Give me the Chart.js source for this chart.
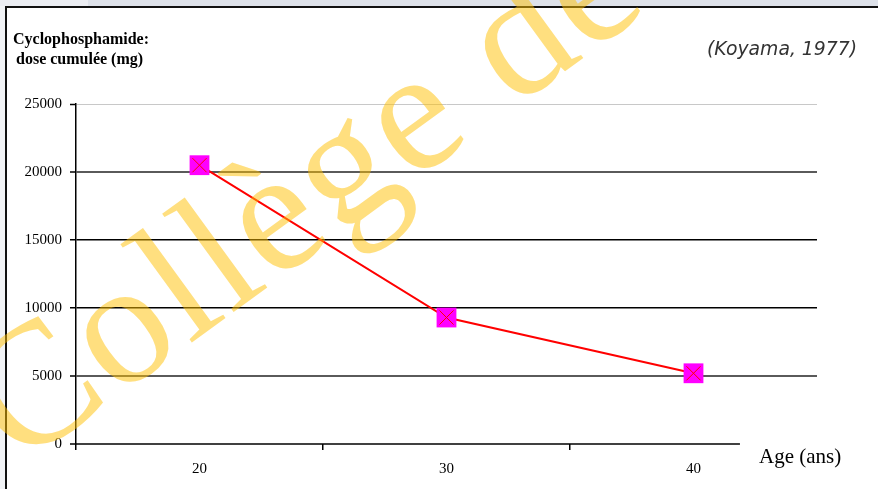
<!DOCTYPE html>
<html>
<head>
<meta charset="utf-8">
<script src="https://cdn.jsdelivr.net/npm/chart.js@4"></script>
<style>
  html, body { margin: 0; padding: 0; background: #fff; }
  canvas { display: block; }
</style>
</head>
<body>
<canvas id="doseChart" width="878" height="489"></canvas>
<script>
  // values
  const ages = ["20", "30", "40"];
  const doses = [20500, 9300, 5200];
  const yMax = 25000;
  const yStep = 5000;

  // gridline look per tick index (0, 5000, ..., 25000)
  const gridColors = ["transparent", "#5a5a5a", "#000", "#000", "#5a5a5a", "#c8c8c8"];
  const gridWidths = [0, 2, 1.5, 1.5, 2, 1];

  const framePlugin = {
    id: "frame",
    beforeDraw(chart) {
      const ctx = chart.ctx;
      ctx.save();
      ctx.fillStyle = "#f1f3f6";
      ctx.fillRect(0, 0, 6, chart.height);
      ctx.fillStyle = "#dde1e9";
      ctx.fillRect(0, 0, chart.width, 6);
      ctx.fillStyle = "#ebedf2";
      ctx.fillRect(0, 0, 88, 6);
      ctx.fillStyle = "#111";
      ctx.fillRect(5, 6, chart.width - 5, 2);
      ctx.fillRect(5, 6, 2, chart.height - 6);
      ctx.restore();
    },
    afterDatasetsDraw(chart) {
      const ctx = chart.ctx;
      const a = chart.chartArea;
      ctx.save();
      // x axis line stops short of the plot's right edge
      ctx.strokeStyle = "#000";
      ctx.lineWidth = 1.5;
      ctx.beginPath();
      ctx.moveTo(a.left, a.bottom);
      ctx.lineTo(a.left + (a.right - a.left) * 0.896, a.bottom);
      ctx.stroke();

      ctx.fillStyle = "#000";
      ctx.textBaseline = "alphabetic";
      ctx.textAlign = "left";
      ctx.font = 'bold 16px "Liberation Serif"';
      ctx.fillText("Cyclophosphamide:", 13, 44, 140);
      ctx.fillText("dose cumulée (mg)", 16, 64, 134);

      ctx.font = '21px "Liberation Serif"';
      ctx.fillText("Age (ans)", 759, 463, 84);

      ctx.fillStyle = "#333";
      ctx.textAlign = "right";
      ctx.font = 'italic 19px "DejaVu Sans"';
      ctx.fillText("(Koyama, 1977)", 857, 55, 150);
      ctx.restore();
    },
    afterDraw(chart) {
      // watermark
      const ctx = chart.ctx;
      ctx.save();
      ctx.translate(19, 468);
      ctx.rotate(-36 * Math.PI / 180);
      ctx.fillStyle = "rgba(255, 192, 0, 0.5)";
      ctx.font = '175px "Liberation Serif"';
      ctx.textBaseline = "alphabetic";
      let x = 0;
      for (const ch of "Collège de") {
        ctx.fillText(ch, x, 0);
        x += ctx.measureText(ch).width + 3;
      }
      ctx.restore();
    }
  };

  const ctx = document.getElementById("doseChart").getContext("2d");
  const doseChart = new Chart(ctx, {
    type: "line",
    data: {
      labels: ages,
      datasets: [
        {
          label: "dose",
          data: doses,
          order: 1,
          borderColor: "#ff0000",
          borderWidth: 2,
          pointStyle: "rect",
          pointRadius: 14,
          pointBackgroundColor: "#ff00ff",
          pointBorderColor: "#ff00ff",
          pointBorderWidth: 0,
          tension: 0,
        },
        {
          label: "marks",
          data: doses,
          order: 0,
          showLine: false,
          pointStyle: "crossRot",
          pointRadius: 10,
          pointBorderColor: "#ff0000",
          pointBorderWidth: 1,
        },
      ],
    },
    options: {
      responsive: false,
      animation: false,
      layout: { padding: { top: 104, right: 61, left: 0, bottom: 0 } },
      plugins: {
        legend: { display: false },
        tooltip: { enabled: false },
      },
      scales: {
        x: {
          offset: true,
          afterFit(scale) { scale.height = 45; },
          border: { display: false },
          grid: {
            offset: true,
            drawOnChartArea: false,
            tickLength: 6,
            lineWidth: 1.5,
            color: (c) => (c.type === "tick" ? "#000" : "transparent"),
          },
          ticks: {
            color: "#000",
            padding: 10,
            font: { family: "Liberation Serif", size: 15 },
          },
        },
        y: {
          min: 0,
          max: yMax,
          afterFit(scale) { scale.width = 76; },
          border: { display: true, color: "#000", width: 1.5 },
          grid: {
            tickLength: 6,
            tickColor: "#000",
            tickWidth: 1.5,
            color: (c) => gridColors[c.index],
            lineWidth: (c) => gridWidths[c.index],
          },
          ticks: {
            stepSize: yStep,
            color: "#000",
            padding: 8,
            font: { family: "Liberation Serif", size: 15 },
            callback: (v) => String(v),
          },
        },
      },
    },
    plugins: [framePlugin],
  });
</script>
</body>
</html>
